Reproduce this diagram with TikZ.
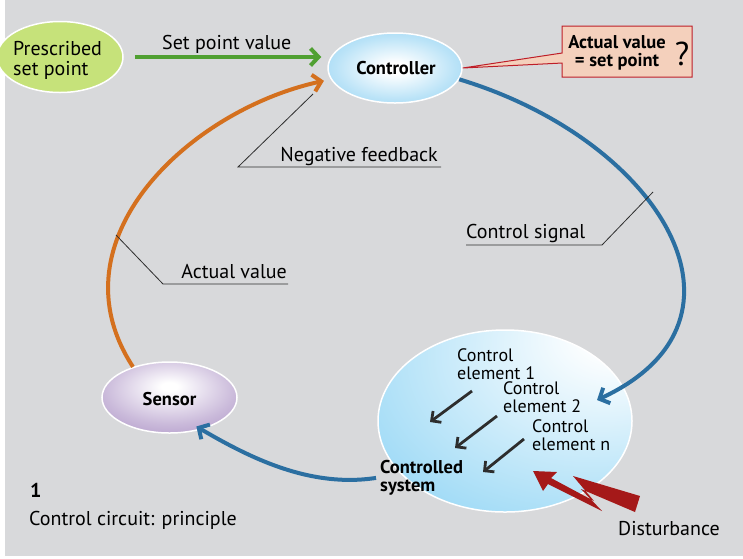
\documentclass[tikz,border=0pt]{standalone}
\usepackage{fontspec}
\setmainfont{PT Sans}
\usetikzlibrary{shapes.geometric,shapes.callouts,arrows.meta,calc}
\definecolor{bggray}{RGB}{216,217,219}
\definecolor{pgreen}{RGB}{198,226,122}
\definecolor{garrow}{RGB}{80,160,50}
\definecolor{oarrow}{RGB}{212,112,30}
\definecolor{barrow}{RGB}{43,111,161}
\definecolor{peach}{RGB}{244,208,188}
\definecolor{cred}{RGB}{190,30,40}
\definecolor{dred}{RGB}{165,25,25}
\definecolor{ctrlblue}{RGB}{120,200,240}
\definecolor{sensviolet}{RGB}{150,118,182}
\definecolor{csblue}{RGB}{95,194,240}
\definecolor{leadgray}{RGB}{45,45,45}
\pgfdeclareradialshading{ctrlshade}{\pgfpoint{0bp}{0bp}}{color(0bp)=(white); color(4bp)=(white); color(22bp)=(ctrlblue!50!white); color(44bp)=(ctrlblue); color(75bp)=(ctrlblue)}
\pgfdeclareradialshading{sensshade}{\pgfpoint{0bp}{8bp}}{color(0bp)=(white); color(3bp)=(white); color(24bp)=(sensviolet!50!white); color(50bp)=(sensviolet); color(80bp)=(sensviolet)}
\pgfdeclareradialshading{csshade}{\pgfpoint{24bp}{26bp}}{color(0bp)=(white); color(6bp)=(white); color(36bp)=(csblue!45!white); color(72bp)=(csblue); color(100bp)=(csblue)}
\tikzset{
  ell/.style={ellipse, draw=white, line width=1.5pt, inner sep=0pt},
  lbl/.style={inner sep=0pt, font=\fontsize{20}{22}\selectfont},
  blbl/.style={inner sep=0pt, font=\fontsize{18.5}{18}\selectfont\bfseries},
  elbl/.style={inner sep=0pt, align=left, font=\fontsize{18}{17.5}\selectfont},
  flow/.style={line width=4pt, -{Straight Barb[length=8pt,width=17pt]}},
  leader/.style={leadgray, line width=0.8pt},
  elarrow/.style={draw=leadgray, line width=2.8pt, -{Straight Barb[length=7pt,width=14pt]}}
}
\begin{document}
\begin{tikzpicture}[x=1pt,y=-1pt]
\useasboundingbox (0,0) rectangle (743,558);
\fill[bggray] (5,0) rectangle (743,556);

% ellipses
\node[ell, fill=pgreen, minimum width=126pt, minimum height=71pt] (pres) at (60,57) {};
\node[lbl, anchor=base west, align=left, font=\fontsize{20}{20}\selectfont] (prestext) at (13,75) {Prescribed\\set point};
\node[ell, shading=ctrlshade, minimum width=134pt, minimum height=70pt] (ctrl) at (395,68) {};
\node[blbl] (ctrltext) at (396,68) {Controller};
\node[ell, shading=sensshade, minimum width=135pt, minimum height=71pt] (sensor) at (169.5,397.5) {};
\node[blbl] (senstext) at (169.5,399) {Sensor};
\node[ell, shading=csshade, minimum width=254pt, minimum height=182pt] (csys) at (505,421) {};

% callout
\node[rectangle callout, fill=peach, draw=cred, line width=1pt, minimum width=130pt, minimum height=51pt,
      callout absolute pointer={(ctrl.east)}, callout pointer width=10pt, inner sep=0pt] (box) at (627,51.5) {};
\node[blbl, anchor=base, align=center] (boxtext) at (617,66) {Actual value\\= set point};
\node[inner sep=0pt, font=\fontsize{33}{33}\selectfont] (q) at (682,54) {?};

% set point value
\draw[flow, garrow, shorten <=11pt, shorten >=6pt] (pres.east) -- (pres.east -| ctrl.west);
\node[lbl, anchor=base west] (spv) at (162,49) {Set point value};

% orange feedback
\draw[flow, oarrow, shorten >=7pt] (sensor.140) .. controls (50,240) and (190,110) .. (ctrl.190);

% blue control signal
\coordinate (csin) at (597,400);
\draw[flow, barrow] (ctrl.-10) .. controls (660,140) and (770,320) .. (csin);

% controlled system text and blue to sensor
\node[blbl, anchor=base west, align=left] (cst) at (380,491) {Controlled\\system};
\draw[flow, barrow, shorten <=4pt, shorten >=-6pt] (cst.west) .. controls (310,488) and (250,458) .. (sensor.-45);

% labels with leaders
\node[lbl, anchor=base east] (nf) at (438,161) {Negative feedback};
\coordinate (nf1) at (441,167); \coordinate (nf2) at (238,167); \coordinate (nf3) at (313,94);
\draw[leader] (nf1) -- (nf2) -- (nf3);
\node[lbl, anchor=base east] (av) at (287,278) {Actual value};
\coordinate (av1) at (288,284); \coordinate (av2) at (163,284); \coordinate (av3) at (116,235);
\draw[leader] (av1) -- (av2) -- (av3);
\node[lbl, anchor=base west] (cs) at (466,238) {Control signal};
\coordinate (cs1) at (466,245); \coordinate (cs2) at (602,245); \coordinate (cs3) at (653,192);
\draw[leader] (cs1) -- (cs2) -- (cs3);

% control elements
\node[elbl, anchor=base west] (e1) at (457,379) {Control\\element 1};
\node[elbl, anchor=base west] (e2) at (503,412) {Control\\element 2};
\node[elbl, anchor=base west] (en) at (532,450) {Control\\element n};
\coordinate (e1a) at (472,391); \coordinate (e1b) at (430,422);
\coordinate (e2a) at (497,416); \coordinate (e2b) at (455,448);
\coordinate (ena) at (524,439); \coordinate (enb) at (483,472);
\draw[elarrow] (e1a) -- (e1b);
\draw[elarrow] (e2a) -- (e2b);
\draw[elarrow] (ena) -- (enb);

% disturbance
\fill[dred] (533,471) -- (557,472) -- (551,478) -- (594,501) -- (573,476) -- (640,496) -- (635,512)
  -- (581,489) -- (602,511) -- (548,484) -- (543,491) -- cycle;
\node[lbl, anchor=base west] (dist) at (618,535) {Disturbance};

% caption
\node[inner sep=0pt, anchor=base west, font=\fontsize{20}{22}\selectfont\bfseries] (num) at (30,497) {1};
\node[lbl, anchor=base west] (cap) at (29,525) {Control circuit: principle};
\end{tikzpicture}
\end{document}
